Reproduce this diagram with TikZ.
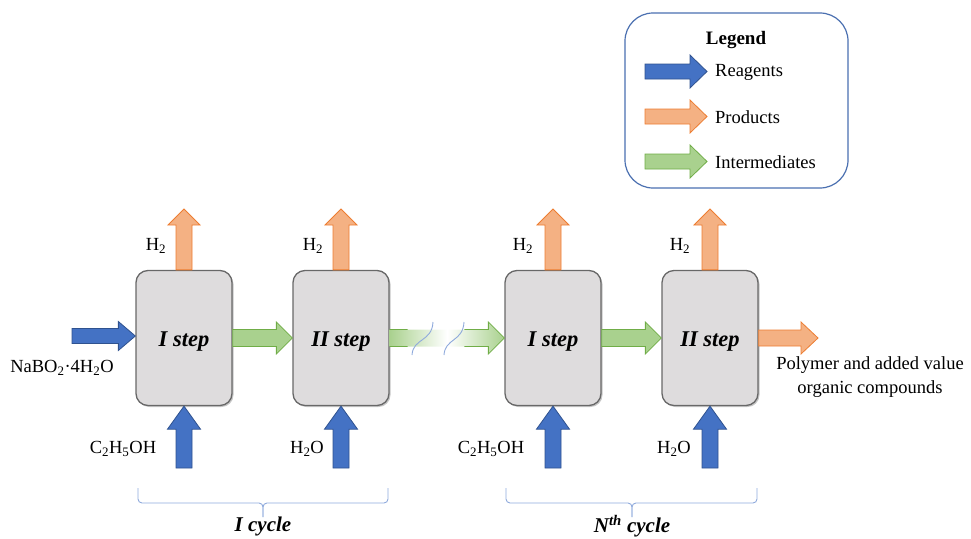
\documentclass[tikz,border=0pt]{standalone}
\usepackage{fontspec}
\setmainfont{Liberation Serif}
\usetikzlibrary{calc,shadows}
\definecolor{bfill}{HTML}{4472C4}
\definecolor{bdraw}{HTML}{2F528F}
\definecolor{ofill}{HTML}{F4B183}
\definecolor{odraw}{HTML}{ED7D31}
\definecolor{gfill}{HTML}{A9D18E}
\definecolor{gdraw}{HTML}{70AD47}
\definecolor{boxfill}{HTML}{DEDCDD}
\definecolor{boxdraw}{HTML}{686868}
\definecolor{legdraw}{HTML}{4A6FB0}
\definecolor{bracec}{HTML}{8FAADC}

\newcommand\blkR[6]{\draw[#1] let \p1=(#2), \p2=(#3) in (\x1,\y1+#4) -- (\x2-#6,\y1+#4) -- (\x2-#6,\y1+#5) -- (\x2,\y1) -- (\x2-#6,\y1-#5) -- (\x2-#6,\y1-#4) -- (\x1,\y1-#4) -- cycle;}
\newcommand\blkU[6]{\draw[#1] let \p1=(#2), \p2=(#3) in (\x1-#4,\y1) -- (\x1-#4,\y2-#6) -- (\x1-#5,\y2-#6) -- (\x1,\y2) -- (\x1+#5,\y2-#6) -- (\x1+#4,\y2-#6) -- (\x1+#4,\y1) -- cycle;}

\tikzset{
  reag/.style={fill=bfill,draw=bdraw,line width=0.8pt,line join=miter},
  prod/.style={fill=ofill,draw=odraw,line width=0.8pt,line join=miter},
  inter/.style={fill=gfill,draw=gdraw,line width=0.8pt,line join=miter},
  stepbox/.style={draw=boxdraw,fill=boxfill,line width=1.3pt,rounded corners=12pt,
    minimum width=96pt,minimum height=135pt,inner sep=0pt,
    drop shadow={shadow xshift=1.5pt,shadow yshift=-1.5pt,opacity=0.45}},
  steptxt/.style={font=\fontsize{22.5}{26}\selectfont\bfseries\itshape,inner sep=0pt},
  lbl/.style={font=\fontsize{18.5}{24}\selectfont,inner sep=0pt},
  cyc/.style={font=\fontsize{21}{24}\selectfont\bfseries\itshape,inner sep=0pt},
  brc/.style={draw=bracec,line width=0.9pt,rounded corners=4pt},
  brk/.style={draw=bracec,line width=0.9pt}
}

\begin{document}
\begin{tikzpicture}[x=1pt,y=-1pt]
\useasboundingbox (0,0) rectangle (971,538);

% legend
\node[draw=legdraw,line width=1.2pt,rounded corners=28pt,minimum width=223pt,minimum height=175pt] (leg) at (736.5,100.5) {};
\node[font=\fontsize{19}{22}\selectfont\bfseries,inner sep=0pt] (legt) at (736,40) {Legend};
\coordinate (la1) at (645,71.5); \coordinate (la2) at (707,71.5);
\coordinate (lb1) at (645,116.5); \coordinate (lb2) at (707,116.5);
\coordinate (lc1) at (645,161.5); \coordinate (lc2) at (707,161.5);
\blkR{reag}{la1}{la2}{7.5pt}{16.5pt}{17pt}
\blkR{prod}{lb1}{lb2}{7.5pt}{16.5pt}{17pt}
\blkR{inter}{lc1}{lc2}{7.5pt}{16.5pt}{17pt}
\node[lbl,anchor=west] (lr) at (715,72) {Reagents};
\node[lbl,anchor=west] (lp) at (715,117) {Products};
\node[lbl,anchor=west] (li) at (715,162) {Intermediates};

% step boxes
\node[stepbox] (b1) at (184,338) {};
\node[stepbox] (b2) at (341,338) {};
\node[stepbox] (b3) at (553,338) {};
\node[stepbox] (b4) at (710,338) {};
\node[steptxt] (s1) at ($(b1)+(0,4)$) {I step};
\node[steptxt] (s2) at ($(b2)+(0,4)$) {II step};
\node[steptxt] (s3) at ($(b3)+(0,4)$) {I step};
\node[steptxt] (s4) at ($(b4)+(0,4)$) {II step};

% top product arrows
\coordinate (t1) at (184,209); \coordinate (t2) at (341,209);
\coordinate (t3) at (553,209); \coordinate (t4) at (710,209);
\blkU{prod}{b1.north}{t1}{8pt}{16pt}{16pt}
\blkU{prod}{b2.north}{t2}{8pt}{16pt}{16pt}
\blkU{prod}{b3.north}{t3}{8pt}{16pt}{16pt}
\blkU{prod}{b4.north}{t4}{8pt}{16pt}{16pt}
\node[lbl] (h1) at (156,246) {H\textsubscript{2}};
\node[lbl] (h2) at (313,246) {H\textsubscript{2}};
\node[lbl] (h3) at (523,246) {H\textsubscript{2}};
\node[lbl] (h4) at (680,246) {H\textsubscript{2}};

% bottom reagent arrows
\coordinate (u1) at (184,468); \coordinate (u2) at (341,468);
\coordinate (u3) at (553,468); \coordinate (u4) at (710,468);
\blkU{reag}{u1}{b1.south}{8pt}{16.5pt}{23pt}
\blkU{reag}{u2}{b2.south}{8pt}{16.5pt}{23pt}
\blkU{reag}{u3}{b3.south}{8pt}{16.5pt}{23pt}
\blkU{reag}{u4}{b4.south}{8pt}{16.5pt}{23pt}
\node[lbl] (r1) at (123,449) {C\textsubscript{2}H\textsubscript{5}OH};
\node[lbl] (r2) at (307,449) {H\textsubscript{2}O};
\node[lbl] (r3) at (491,449) {C\textsubscript{2}H\textsubscript{5}OH};
\node[lbl] (r4) at (674,449) {H\textsubscript{2}O};

% left input
\coordinate (in0) at (72,336);
\blkR{reag}{in0}{b1.west}{7.5pt}{14.5pt}{17pt}
\node[lbl] (nab) at (62,368) {NaBO\textsubscript{2}·4H\textsubscript{2}O};

% intermediates
\blkR{inter}{b1.east}{b2.west}{8.5pt}{16pt}{16pt}
\blkR{inter}{b3.east}{b4.west}{8.5pt}{16pt}{16pt}

% long faded arrow
\shade[left color=gfill,right color=gfill,middle color=white] let \p1=(b2.east), \p2=(b3.west) in
  (\x1,\y1+8.5pt) -- (\x2-16pt,\y1+8.5pt) -- (\x2-16pt,\y1+16pt) -- (\x2,\y1) -- (\x2-16pt,\y1-16pt) -- (\x2-16pt,\y1-8.5pt) -- (\x1,\y1-8.5pt) -- cycle;
\draw[draw=gdraw,line width=0.8pt] let \p1=(b2.east), \p2=(b3.west) in
  (\x1,\y1+8.5pt) -- (\x1+18pt,\y1+8.5pt)
  (\x2-40pt,\y1+8.5pt) -- (\x2-16pt,\y1+8.5pt) -- (\x2-16pt,\y1+16pt) -- (\x2,\y1) -- (\x2-16pt,\y1-16pt) -- (\x2-16pt,\y1-8.5pt) -- (\x2-40pt,\y1-8.5pt)
  (\x1+18pt,\y1-8.5pt) -- (\x1,\y1-8.5pt);
\draw[brk] (412,355) .. controls (413,338) and (432,342) .. (433,322);
\draw[brk] (444,355) .. controls (445,338) and (463,342) .. (464,322);

% output
\coordinate (o2) at (818,338);
\blkR{prod}{b4.east}{o2}{8pt}{16pt}{17pt}
\node[lbl,align=center] (out) at (870,377) {Polymer and added value\\organic compounds};

% braces
\draw[brc] (138,488) |- (263,503) -- (263,517);
\draw[brc] (388,488) |- (263,503) -- (263,517);
\draw[brc] (506,488) |- (632,503) -- (632,517);
\draw[brc] (757,488) |- (632,503) -- (632,517);
\node[cyc] (c1) at (263,526) {I cycle};
\node[cyc] (c2) at (632,526) {N\textsuperscript{th} cycle};
\end{tikzpicture}
\end{document}
